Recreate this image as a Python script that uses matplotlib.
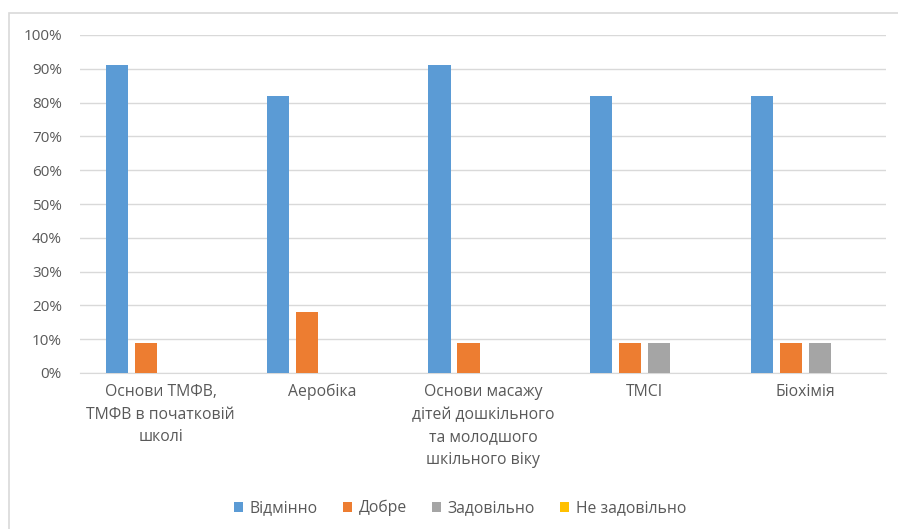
import matplotlib
matplotlib.use("Agg")
import matplotlib.pyplot as plt
import numpy as np
from matplotlib.patches import Rectangle
from matplotlib.ticker import PercentFormatter

categories = ["Основи ТМФВ,\nТМФВ в початковій\nшколі", "Аеробіка",
              "Основи масажу\nдітей дошкільного\nта молодшого\nшкільного віку",
              "ТМСІ", "Біохімія"]
series_names = ["Відмінно", "Добре", "Задовільно", "Не задовільно"]
excellent = [91, 82, 91, 82, 82]
good = [9, 18, 9, 9, 9]
satisfactory = [0, 0, 0, 9, 9]
unsatisfactory = [0, 0, 0, 0, 0]
colors = ["#5b9bd5", "#ed7d31", "#a5a5a5", "#ffc000"]

plt.rcParams['font.family'] = ['Open Sans', 'DejaVu Sans']
text_col = "#595959"

fig = plt.figure(figsize=(8.98, 5.29), dpi=100)
fig.patches.append(Rectangle((9 / 898, -0.1), 1.2, 1 - 13 / 529 + 0.1,
                             transform=fig.transFigure, fill=False,
                             edgecolor="#d9d9d9", linewidth=1.2))
ax = fig.add_axes([80 / 898, 1 - 373 / 529, 806 / 898, 338 / 529])

x = np.arange(len(categories))
step = 0.18
width = 0.137
all_vals = [excellent, good, satisfactory, unsatisfactory]
for i, (name, vals) in enumerate(zip(series_names, all_vals)):
    ax.bar(x + (i - 1.5) * step, vals, width, color=colors[i], label=name, zorder=3)

ax.set_xlim(-0.5, len(categories) - 0.5)
ax.set_ylim(0, 100)
ax.set_yticks(np.arange(0, 101, 10))
ax.yaxis.set_major_formatter(PercentFormatter(decimals=0))
ax.grid(axis="y", color="#d9d9d9", linewidth=1, zorder=0)
for s in ["top", "right", "left"]:
    ax.spines[s].set_visible(False)
ax.spines["bottom"].set_color("#d9d9d9")
ax.tick_params(axis="both", length=0, colors=text_col, labelsize=11)
ax.tick_params(axis="x", labelsize=11.3)
ax.tick_params(axis="y", pad=13)
ax.tick_params(axis="x", pad=8)
ax.set_xticks(x)
ax.set_xticklabels(categories, linespacing=1.55, va="top")

leg = fig.legend(loc="center", bbox_to_anchor=(460 / 898, 1 - 508 / 529), ncol=4,
                 frameon=False, fontsize=11.3, handlelength=0.6, handleheight=0.6,
                 handletextpad=0.4, columnspacing=1.6)
for t in leg.get_texts():
    t.set_color(text_col)

fig.savefig("out.png", dpi=100)
